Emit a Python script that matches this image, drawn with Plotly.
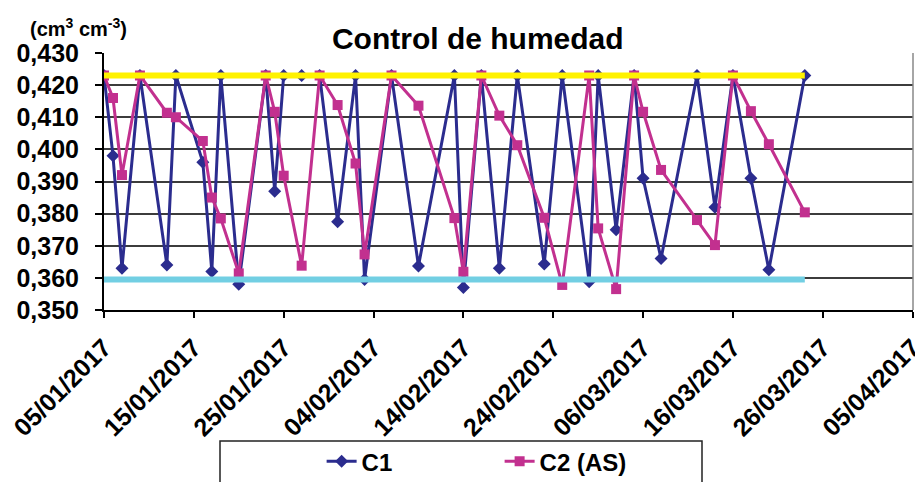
import plotly.graph_objects as go

dates = ["2017-01-05", "2017-01-06", "2017-01-07", "2017-01-09", "2017-01-12", "2017-01-13",
         "2017-01-16", "2017-01-17", "2017-01-18", "2017-01-20", "2017-01-23", "2017-01-24",
         "2017-01-25", "2017-01-27", "2017-01-29", "2017-01-31", "2017-02-02", "2017-02-03",
         "2017-02-06", "2017-02-09", "2017-02-13", "2017-02-14", "2017-02-16", "2017-02-18",
         "2017-02-20", "2017-02-23", "2017-02-25", "2017-02-28", "2017-03-01", "2017-03-03",
         "2017-03-05", "2017-03-06", "2017-03-08", "2017-03-12", "2017-03-14", "2017-03-16",
         "2017-03-18", "2017-03-20", "2017-03-24"]

c1 = [0.423, 0.398, 0.363, 0.423, 0.364, 0.423,
      0.396, 0.362, 0.423, 0.358, 0.423, 0.387,
      0.423, 0.423, 0.423, 0.3775, 0.423, 0.3595,
      0.423, 0.3637, 0.423, 0.357, 0.423, 0.363,
      0.423, 0.3643, 0.423, 0.3588, 0.423, 0.375,
      0.423, 0.391, 0.366, 0.423, 0.382, 0.423,
      0.391, 0.3625, 0.423]

c2 = [0.423, 0.416, 0.392, 0.423, 0.4114, 0.410,
      0.4026, 0.385, 0.3785, 0.3614, 0.423, 0.4117,
      0.3918, 0.3638, 0.423, 0.4138, 0.3956, 0.3673,
      0.423, 0.4136, 0.3786, 0.3619, 0.423, 0.4105,
      0.4013, 0.3787, 0.3578, 0.423, 0.3754, 0.3565,
      0.423, 0.4117, 0.3936, 0.378, 0.3702, 0.423,
      0.4119, 0.4016, 0.3804]

ref_dates = ["2017-01-05", "2017-03-24"]
upper_limit = [0.423, 0.423]
lower_limit = [0.3595, 0.3595]

series_names = ["C1", "C2 (AS)"]
title_text = "Control de humedad"
unit_text = "(cm<sup>3</sup> cm<sup>-3</sup>)"

BLUE = "#2B2C8E"
MAGENTA = "#C2308F"
YELLOW = "#FFF200"
CYAN = "#72CFE3"
FONT = "Liberation Sans"

fig = go.Figure()
fig.add_trace(go.Scatter(x=dates, y=c1, name=series_names[0], mode="lines+markers",
                         line=dict(color=BLUE, width=3),
                         marker=dict(symbol="diamond", size=10, color=BLUE)))
fig.add_trace(go.Scatter(x=dates, y=c2, name=series_names[1], mode="lines+markers",
                         line=dict(color=MAGENTA, width=3),
                         marker=dict(symbol="square", size=10, color=MAGENTA)))
fig.add_trace(go.Scatter(x=ref_dates, y=upper_limit, mode="lines", showlegend=False,
                         line=dict(color=YELLOW, width=6), hoverinfo="skip"))
fig.add_trace(go.Scatter(x=ref_dates, y=lower_limit, mode="lines", showlegend=False,
                         line=dict(color=CYAN, width=6), hoverinfo="skip"))

fig.update_layout(
    width=915, height=482,
    margin=dict(l=104, r=2, t=53, b=172, autoexpand=False),
    paper_bgcolor="white", plot_bgcolor="white",
    separators=",.",
    font=dict(family=FONT, color="black"),
    title=dict(text="<b>" + title_text + "</b>", x=0.462, xref="paper", y=1 - 38 / 482,
               yref="container", xanchor="center", yanchor="middle",
               font=dict(family=FONT, size=30, color="black")),
    showlegend=True,
    legend=dict(orientation="h", x=0.269, y=-0.59, xanchor="left", yanchor="middle",
                bgcolor="rgba(0,0,0,0)", borderwidth=0,
                font=dict(family=FONT, size=24, color="black", weight="bold"),
                entrywidth=133, entrywidthmode="pixels"),
    xaxis=dict(type="date", range=["2017-01-05", "2017-04-05 01:00"], tick0="2017-01-05",
               dtick=10 * 86400000, tickformat="%d/%m/%Y", tickangle=-45,
               ticks="outside", ticklen=6, tickwidth=1.5, tickcolor="black",
               showline=True, linewidth=2, linecolor="black", showgrid=False,
               zeroline=False, ticklabelstandoff=5, ticklabeloverflow="allow",
               automargin=False,
               tickfont=dict(family=FONT, size=25, color="black", weight="bold")),
    yaxis=dict(range=[0.35, 0.43], dtick=0.01, tick0=0.35, tickformat=".3f",
               ticks="outside", ticklen=7, tickwidth=1.5, tickcolor="black",
               showline=True, linewidth=2, linecolor="black",
               showgrid=True, gridcolor="#3c3c3c", gridwidth=1.5, zeroline=False,
               ticklabelstandoff=11, automargin=False,
               tickfont=dict(family=FONT, size=25, color="black", weight="bold")),
    annotations=[dict(text="<b>" + unit_text + "</b>", xref="paper", yref="paper",
                      x=(28 - 104) / 809, y=(310 - 28) / 257, xanchor="left", yanchor="middle",
                      showarrow=False, font=dict(family=FONT, size=20, color="black"))],
    shapes=[
        dict(type="rect", xref="paper", yref="paper", x0=(220 - 104) / 809, x1=(702 - 104) / 809,
             y0=-0.75, y1=(310 - 441) / 257, line=dict(color="#222", width=1.5)),
        dict(type="line", xref="paper", yref="paper", x0=1, x1=1, y0=0, y1=1,
             line=dict(color="#888", width=1.5)),
    ],
)

fig.write_html("out.html")
